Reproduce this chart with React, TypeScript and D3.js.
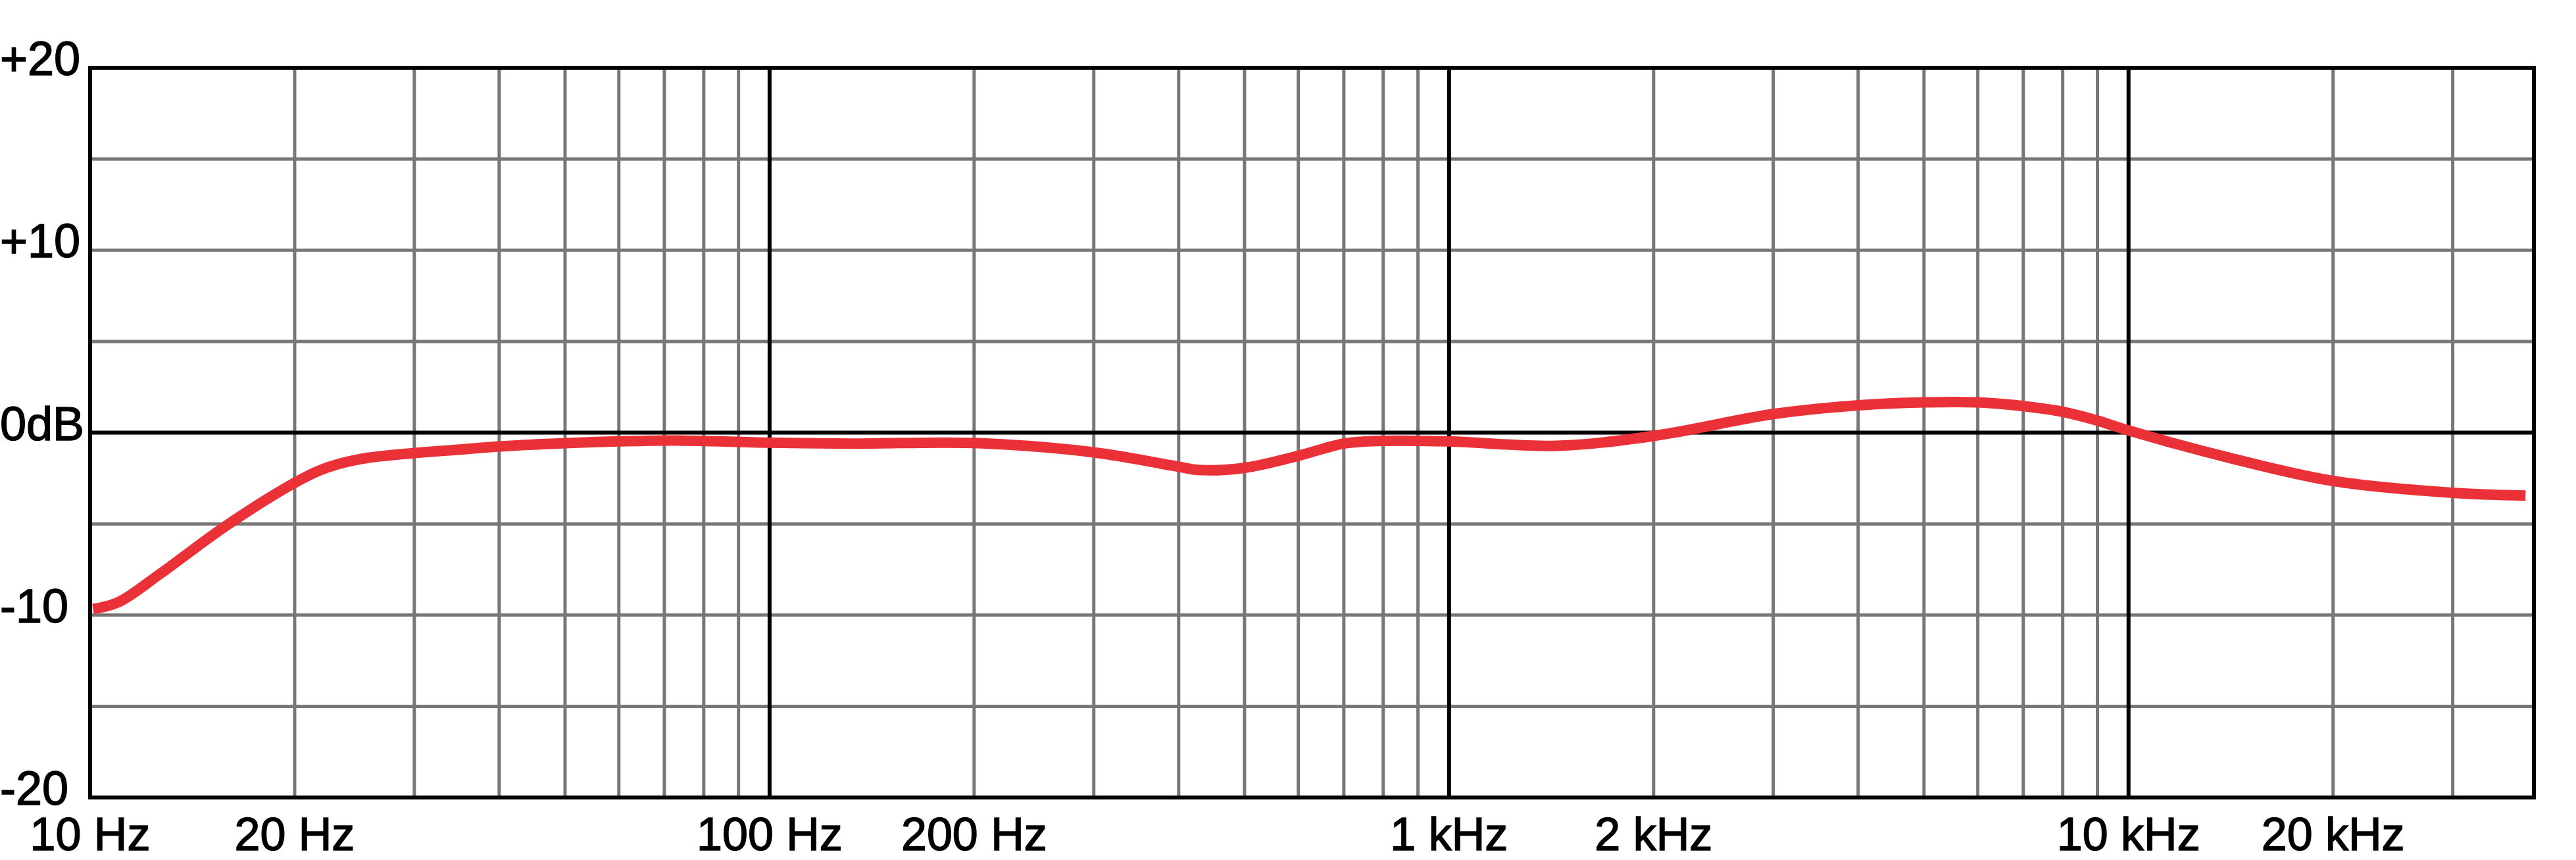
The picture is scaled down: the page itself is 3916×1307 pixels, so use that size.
import React from "react";
import * as d3 from "d3";

const freqs = [10.1, 11, 12.7, 15.8, 20, 22, 25, 30, 35, 40, 50, 60, 73, 100, 134, 200, 300, 400, 428, 500, 600, 700, 800, 1000, 1440, 2000, 3000, 4000, 5000, 6000, 7000, 8000, 9000, 10000, 13900, 20000, 30000, 38400];
const levels = [-9.67, -9.3, -7.72, -5.14, -2.75, -2.0, -1.45, -1.12, -0.93, -0.76, -0.58, -0.48, -0.43, -0.55, -0.6, -0.57, -1.08, -1.87, -2.05, -1.93, -1.27, -0.6, -0.45, -0.48, -0.72, -0.18, 1.02, 1.5, 1.66, 1.66, 1.45, 1.14, 0.66, 0.12, -1.33, -2.65, -3.3, -3.45];

const majorFreqs = [10, 100, 1000, 10000];
const minorFreqs = [20, 30, 40, 50, 60, 70, 80, 90, 200, 300, 400, 500, 600, 700, 800, 900, 2000, 3000, 4000, 5000, 6000, 7000, 8000, 9000, 20000, 30000];
const xTickValues = [10, 20, 100, 200, 1000, 2000, 10000, 20000];
const xTickLabels = ["10 Hz", "20 Hz", "100 Hz", "200 Hz", "1 kHz", "2 kHz", "10 kHz", "20 kHz"];
const dbGrid = [-15, -10, -5, 5, 10, 15];
const yTickValues = [20, 10, 0, -10, -20];
const yTickLabels = ["+20", "+10", "0dB", "-10", "-20"];

const W = 3916;
const H = 1307;
const L = 137, R = 3852, T = 103, B = 1212;

export default function App() {
  const x = d3.scaleLog().domain([10, 39500]).range([L, R]);
  const y = d3.scaleLinear().domain([-20, 20]).range([B, T]);
  const pts = freqs.map((f, i) => [f, levels[i]] as [number, number]);
  const line = d3
    .line<[number, number]>()
    .x((d) => x(d[0]))
    .y((d) => y(d[1]))
    .curve(d3.curveCatmullRom.alpha(0.5));
  const font = "'Liberation Sans', Arial, sans-serif";
  const gray = "#777";
  return (
    <svg width={W} height={H} style={{ position: "absolute", left: 0, top: 0, background: "#fff" }}>
      {minorFreqs.map((f) => (
        <line key={"mv" + f} x1={x(f)} x2={x(f)} y1={T} y2={B} stroke={gray} strokeWidth={5} />
      ))}
      {dbGrid.map((v) => (
        <line key={"h" + v} x1={L} x2={R} y1={y(v)} y2={y(v)} stroke={gray} strokeWidth={5} />
      ))}
      {majorFreqs.map((f) => (
        <line key={"Mv" + f} x1={x(f)} x2={x(f)} y1={T} y2={B} stroke="#000" strokeWidth={6} />
      ))}
      <line x1={L} x2={R} y1={y(0)} y2={y(0)} stroke="#000" strokeWidth={6} />
      <rect x={L} y={T} width={R - L} height={B - T} fill="none" stroke="#000" strokeWidth={6} />
      <path d={line(pts) || ""} fill="none" stroke="#eb3138" strokeWidth={16} strokeLinecap="butt" strokeLinejoin="round" />
      {yTickValues.map((v, i) => (
        <text key={"yl" + v} x={0} y={y(v) + 11} fontFamily={font} fontSize={72} fill="#000" stroke="#000" strokeWidth={1.5}>
          {yTickLabels[i]}
        </text>
      ))}
      {xTickValues.map((f, i) => (
        <text key={"xl" + f} x={x(f)} y={1292} textAnchor="middle" fontFamily={font} fontSize={70} fill="#000" stroke="#000" strokeWidth={1.5}>
          {xTickLabels[i]}
        </text>
      ))}
    </svg>
  );
}
